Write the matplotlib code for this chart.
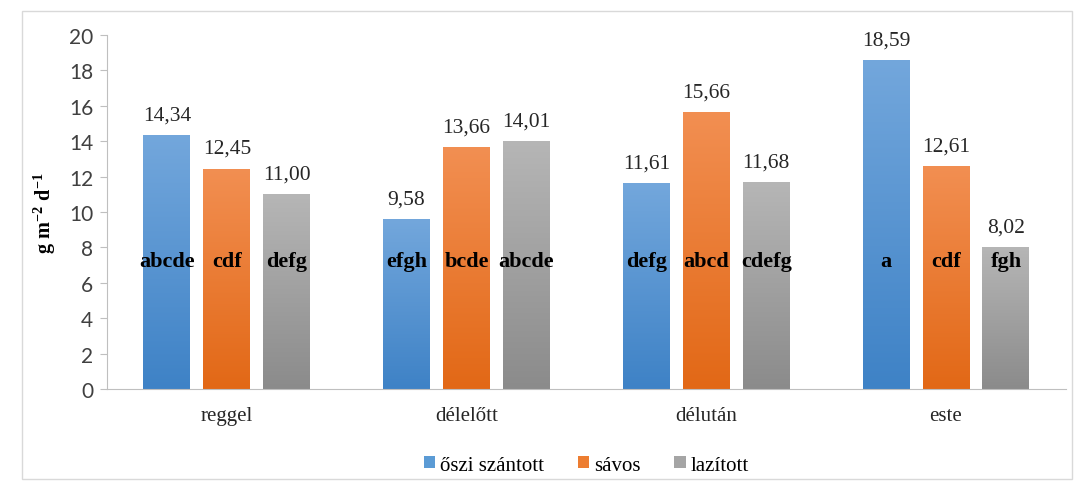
import numpy as np
import matplotlib.pyplot as plt
from matplotlib.patches import Rectangle
from matplotlib.colors import LinearSegmentedColormap

categories = ['reggel', 'délelőtt', 'délután', 'este']
series = ['őszi szántott', 'sávos', 'lazított']
oszi = [14.34, 9.58, 11.61, 18.59]
savos = [12.45, 13.66, 15.66, 12.61]
lazitott = [11.00, 14.01, 11.68, 8.02]
letters = [['abcde', 'efgh', 'defg', 'a'],
           ['cdf', 'bcde', 'abcd', 'cdf'],
           ['defg', 'abcde', 'cdefg', 'fgh']]

values = [oszi, savos, lazitott]
legend_cols = ['#5B9BD5', '#ED7D31', '#A5A5A5']
grad = [('#3E82C6', '#73A7DC'), ('#E26816', '#F28F52'), ('#8B8B8B', '#B6B6B6')]
serif = ['Liberation Serif', 'DejaVu Serif']

plt.rcParams['mathtext.fontset'] = 'custom'
plt.rcParams['mathtext.rm'] = 'Liberation Serif:bold'
plt.rcParams['mathtext.bf'] = 'Liberation Serif:bold'
plt.rcParams['mathtext.it'] = 'Liberation Serif:bold'

fig = plt.figure(figsize=(10.75, 4.85), dpi=100)
ax = fig.add_axes([0.0995, 0.196, 0.892, 0.730])
fig.patches.append(Rectangle((22/1075, 1-480/485), 1050/1075, 468/485, transform=fig.transFigure,
                             fill=False, edgecolor='#D9D9D9', linewidth=1))

x = np.arange(len(categories))
w = 0.196
offs = [-0.25, 0, 0.25]
gimg = np.linspace(0, 1, 256).reshape(-1, 1)
for i in range(3):
    bars = ax.bar(x + offs[i], values[i], w, color=legend_cols[i], label=series[i], zorder=2)
    cmap = LinearSegmentedColormap.from_list('g%d' % i, grad[i])
    for j, b in enumerate(bars):
        h = values[i][j]
        im = ax.imshow(gimg, cmap=cmap, aspect='auto', origin='lower',
                       extent=[b.get_x(), b.get_x() + w, 0, h], zorder=2.5)
        im.set_clip_path(b)
        ax.text(b.get_x() + w/2, h + 0.6, ('%.2f' % h).replace('.', ','), ha='center', va='bottom',
                fontsize=15.5, family=serif, color='#262626')
        ax.text(b.get_x() + w/2, 7.2, letters[i][j], ha='center', va='center',
                fontsize=16, family=serif, fontweight='bold', color='black', zorder=4)

ax.set_xlim(-0.5, 3.5)
ax.set_ylim(0, 20)
ax.set_yticks(range(0, 21, 2))
ax.set_xticks(x)
ax.set_xticklabels(categories, family=serif, fontsize=15)
ax.tick_params(axis='x', length=0, pad=12, colors='#262626')
ax.tick_params(axis='y', length=5, color='#BFBFBF', labelsize=15, labelcolor='#404040', pad=5)
for t in ax.get_yticklabels():
    t.set_family('Lato')
for s in ['top', 'right']:
    ax.spines[s].set_visible(False)
for s in ['left', 'bottom']:
    ax.spines[s].set_color('#BFBFBF')
ax.set_ylabel(r'$\mathbf{g\ m^{-2}\ d^{-1}}$', fontsize=14.5, labelpad=8)

ax.legend(loc='center', bbox_to_anchor=(0.5, -0.215), ncol=3, frameon=False,
          prop={'family': serif, 'size': 15}, handlelength=0.55, handleheight=0.55,
          handletextpad=0.25, columnspacing=1.6)

plt.savefig('out.png', dpi=100)
